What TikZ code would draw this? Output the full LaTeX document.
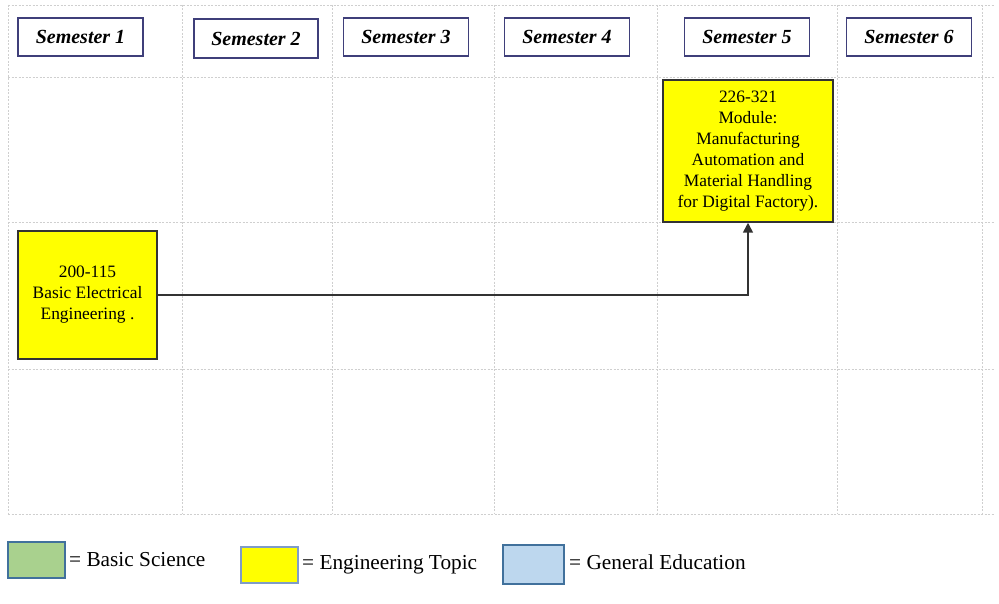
\documentclass[tikz,border=0pt]{standalone}
\usepackage{fontspec}
\setmainfont{Liberation Serif}
\usetikzlibrary{arrows.meta}
\definecolor{gridc}{HTML}{CFCFCF}
\definecolor{navy}{HTML}{3F3F7A}
\definecolor{boxline}{HTML}{333333}
\definecolor{yel}{HTML}{FFFF00}
\definecolor{grn}{HTML}{A9D18E}
\definecolor{lblue}{HTML}{BDD7EE}
\definecolor{bline}{HTML}{41719C}
\definecolor{yline}{HTML}{7F9CC8}
\tikzset{
  gridline/.style={draw=gridc, line width=0.8pt, dash pattern=on 2pt off 1.5pt},
  sembox/.style={draw=navy, line width=1.2pt, fill=white, minimum width=125pt, minimum height=38pt, inner sep=0pt,
     font=\fontsize{20}{24}\selectfont\bfseries\itshape},
  course/.style={draw=boxline, line width=1.5pt, fill=yel, inner sep=0pt, align=center,
     font=\fontsize{17.4}{21}\selectfont},
  conn/.style={draw=boxline, line width=1.6pt, -{Triangle[length=10pt,width=10pt]}},
  legbox/.style={line width=1.3pt, inner sep=0pt},
  legtext/.style={anchor=west, inner sep=0pt, font=\fontsize{21.3}{24}\selectfont}
}
\begin{document}
\begin{tikzpicture}[x=1pt,y=-1pt]
\useasboundingbox (0,0) rectangle (999,604);
\fill[white] (0,0) rectangle (999,604);
% grid
\foreach \yy in {5,77,222,369,514} {\draw[gridline] (8,\yy) -- (995,\yy);}
\foreach \xx in {8,182,332,494,657,837,982} {\draw[gridline] (\xx,5) -- (\xx,514);}
% semester headers
\node[sembox] (s1) at (80.5,37) {Semester 1};
\node[sembox, line width=1.9pt, minimum height=39pt, minimum width=124pt] (s2) at (256,38.5) {Semester 2};
\node[sembox] (s3) at (406,37) {Semester 3};
\node[sembox] (s4) at (567,37) {Semester 4};
\node[sembox] (s5) at (747,37) {Semester 5};
\node[sembox] (s6) at (909,37) {Semester 6};
% courses
\node[course, minimum width=139pt, minimum height=128pt] (b1) at (87.5,295)
  {200-115\\Basic Electrical\\Engineering .};
\node[course, minimum width=170pt, minimum height=142pt] (b2) at (748,151)
  {226-321\\Module:\\Manufacturing\\Automation and\\Material Handling\\for Digital Factory).};
\draw[conn] (b1.east) -| (b2.south);
% legend
\node[legbox, draw=bline, fill=grn, minimum width=57pt, minimum height=36pt] (lg) at (36.5,560) {};
\node[legtext] (lgt) at (69,560) {= Basic Science};
\node[legbox, draw=yline, fill=yel, minimum width=57pt, minimum height=36pt] (ly) at (269.5,565) {};
\node[legtext] (lyt) at (302,565) {= Engineering Topic};
\node[legbox, draw=bline, fill=lblue, minimum width=61pt, minimum height=39pt] (lb) at (533.5,564.5) {};
\node[legtext] (lbt) at (569,562) {= General Education};
\end{tikzpicture}
\end{document}
